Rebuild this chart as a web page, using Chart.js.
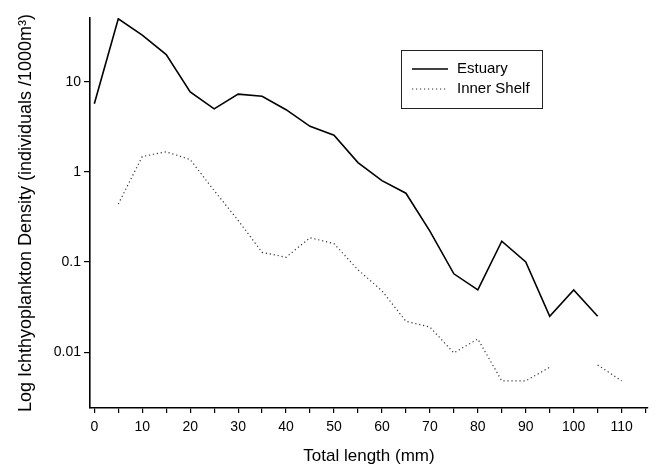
<!DOCTYPE html>
<html lang="en">
<head>
  <meta charset="UTF-8">
  <title>Ichthyoplankton density by total length</title>
  <script src="https://cdn.jsdelivr.net/npm/chart.js"></script>
  <style>
    body { margin: 0; background: #fff; }
    #wrap { width: 656px; height: 467px; }
  </style>
</head>
<body>
  <div id="wrap"><canvas id="densityChart" width="656" height="467"></canvas></div>

  <script>
    // total length classes (mm)
    const lengths = [0, 5, 10, 15, 20, 25, 30, 35, 40, 45, 50, 55, 60, 65, 70, 75, 80, 85, 90, 95, 100, 105, 110];
    // density, individuals / 1000 m3
    const estuary = [5.7, 50, 33, 20, 7.7, 5.0, 7.3, 6.9, 4.9, 3.2, 2.55, 1.27, 0.8, 0.58, 0.22, 0.074, 0.049, 0.17, 0.1, 0.025, 0.049, 0.025, null];
    const innerShelf = [null, 0.44, 1.48, 1.67, 1.37, 0.62, 0.29, 0.128, 0.113, 0.186, 0.16, 0.082, 0.048, 0.022, 0.019, 0.0098, 0.014, 0.0048, 0.0048, 0.0068, null, 0.0072, 0.0048];
    const yTicks = [0.01, 0.1, 1, 10];
    const xTicks = [0, 5, 10, 15, 20, 25, 30, 35, 40, 45, 50, 55, 60, 65, 70, 75, 80, 85, 90, 95, 100, 105, 110, 115];

    const FONT = "'Liberation Sans', Arial, sans-serif";

    const toPoints = arr => lengths.map((x, i) => ({ x: x, y: arr[i] }));

    // legend drawn inside the plot with a box, like the original figure
    const boxLegend = {
      id: 'boxLegend',
      afterDraw(chart, args, opts) {
        const ctx = chart.ctx;
        ctx.save();
        ctx.strokeStyle = '#222';
        ctx.lineWidth = 1;
        ctx.strokeRect(opts.x + 0.5, opts.y + 0.5, opts.w, opts.h);
        ctx.font = '15px ' + FONT;
        ctx.textBaseline = 'middle';
        ctx.fillStyle = '#000';
        chart.data.datasets.forEach((ds, i) => {
          const y = opts.y + opts.firstRow + i * opts.rowGap;
          ctx.beginPath();
          ctx.strokeStyle = ds.borderColor;
          ctx.lineWidth = ds.borderWidth;
          ctx.setLineDash(ds.borderDash || []);
          ctx.moveTo(opts.x + 11, y);
          ctx.lineTo(opts.x + 47, y);
          ctx.stroke();
          ctx.setLineDash([]);
          ctx.fillText(ds.label, opts.x + 56, y);
        });
        ctx.restore();
      }
    };

    new Chart(document.getElementById('densityChart'), {
      type: 'line',
      data: {
        datasets: [
          {
            label: 'Estuary',
            data: toPoints(estuary),
            borderColor: '#000',
            borderWidth: 1.6,
            pointRadius: 0,
            tension: 0,
            spanGaps: false
          },
          {
            label: 'Inner Shelf',
            data: toPoints(innerShelf),
            borderColor: '#333',
            borderWidth: 1.2,
            borderDash: [1.2, 2.8],
            pointRadius: 0,
            tension: 0,
            spanGaps: false
          }
        ]
      },
      options: {
        responsive: false,
        animation: false,
        layout: { padding: { top: 18, right: 8, left: 0, bottom: 0 } },
        plugins: {
          legend: { display: false },
          tooltip: { enabled: false },
          boxLegend: { x: 401, y: 50, w: 141, h: 58, firstRow: 19, rowGap: 20 }
        },
        scales: {
          x: {
            type: 'linear',
            min: -0.9,
            max: 115.5,
            afterBuildTicks: s => { s.ticks = xTicks.map(v => ({ value: v })); },
            afterFit: s => { s.height = 59; },
            border: { display: true, color: '#000', width: 1.6 },
            grid: { drawOnChartArea: false, color: '#000', tickLength: 5, lineWidth: 1.2 },
            ticks: {
              autoSkip: false,
              maxRotation: 0,
              padding: 6,
              color: '#000',
              font: { family: FONT, size: 14 },
              callback: v => (v % 10 === 0 ? String(v) : '')
            },
            title: {
              display: true,
              text: 'Total length (mm)',
              color: '#000',
              font: { family: FONT, size: 17 },
              padding: { top: 0, bottom: 0 }
            }
          },
          y: {
            type: 'logarithmic',
            min: 0.0024,
            max: 51,
            afterBuildTicks: s => { s.ticks = yTicks.map(v => ({ value: v })); },
            afterFit: s => { s.width = 90; },
            border: { display: true, color: '#000', width: 1.6 },
            grid: { drawOnChartArea: false, color: '#000', tickLength: 6, lineWidth: 1.2 },
            ticks: {
              padding: 3,
              color: '#000',
              font: { family: FONT, size: 14 },
              callback: v => String(v)
            },
            title: {
              display: true,
              text: 'Log Ichthyoplankton Density (individuals /1000m\u00B3)',
              color: '#000',
              font: { family: FONT, size: 18 },
              padding: { top: 15, bottom: 0 }
            }
          }
        }
      },
      plugins: [boxLegend]
    });
  </script>
</body>
</html>
